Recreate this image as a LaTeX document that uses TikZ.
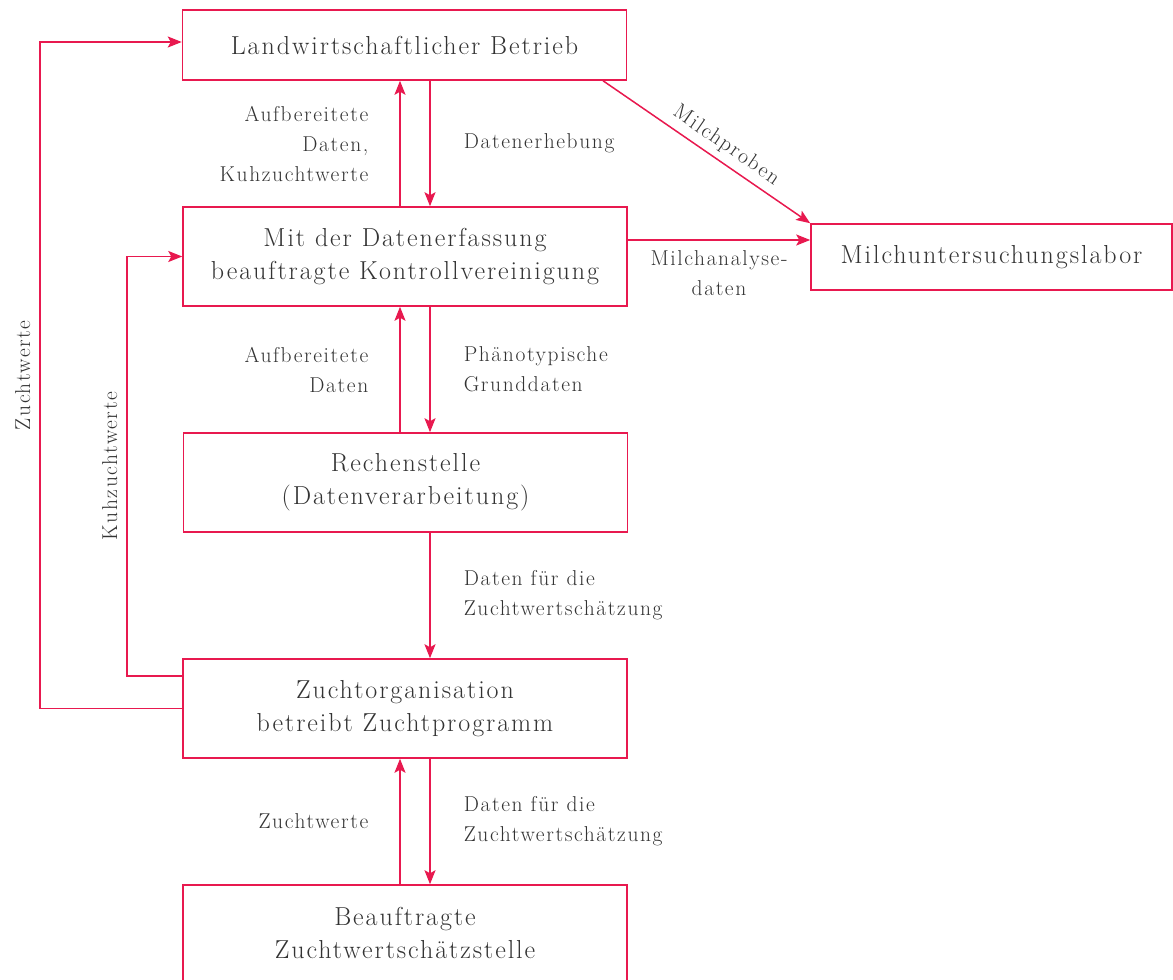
\documentclass[tikz,border=0pt]{standalone}
\usepackage{fontspec}
\setmainfont{Latin Modern Roman}[LetterSpace=7.5]
\usetikzlibrary{arrows.meta}
\definecolor{pk}{HTML}{E8194F}
\definecolor{tx}{HTML}{333333}
\begin{document}
\begin{tikzpicture}[x=1pt,y=-1pt,
  box/.style={draw=pk, line width=1.5pt, minimum width=444pt, minimum height=99pt,
    align=center, text=tx, font=\fontsize{26}{33}\selectfont, inner sep=0pt},
  arr/.style={draw=pk, line width=1.5pt, -{Stealth[length=14pt,width=11pt,inset=3pt]}},
  lbl/.style={text=tx, font=\fontsize{21.5}{30}\selectfont, inner sep=0pt},
  vlbl/.style={lbl, anchor=south, rotate=90, inner xsep=0pt, inner ysep=9pt}
]
\clip (0,0) rectangle (1173,980);
\fill[white] (0,0) rectangle (1173,980);

\node[box, minimum height=70pt] (land) at (404.5,45) {Landwirtschaftlicher Betrieb};
\node[box] (kon) at (405,256.5) {Mit der Datenerfassung\\beauftragte Kontrollvereinigung};
\node[box, minimum width=361pt, minimum height=66pt] (lab) at (991.5,257) {Milchuntersuchungslabor};
\node[box] (rech) at (405.5,482.5) {Rechenstelle\\(Datenverarbeitung)};
\node[box] (zo) at (405,708.5) {Zuchtorganisation\\betreibt Zuchtprogramm};
\node[box, minimum height=96pt] (bz) at (405,933) {Beauftragte\\Zuchtwertschätzstelle};

% Landwirtschaft <-> Kontrollvereinigung
\draw[arr] ([xshift=-5pt]kon.north) -- node[lbl, midway, left=31pt, align=right]{Aufbereitete\\Daten,\\Kuhzuchtwerte} ([xshift=-4.5pt]land.south);
\draw[arr] ([xshift=25.5pt]land.south) -- node[lbl, midway, right=33pt]{Datenerhebung} ([xshift=25pt]kon.north);

% Milchproben / Milchanalyse
\draw[arr] ([xshift=198.5pt]land.south) -- node[lbl, pos=0.55, sloped, above=6pt]{Milchproben} (lab.north west);
\draw[arr] ([yshift=16.5pt]kon.east) -- node[lbl, midway, below=10pt, align=center]{Milchanalyse-\\daten} ([yshift=17pt]lab.west);

% Kontrollvereinigung <-> Rechenstelle
\draw[arr] ([xshift=-5.5pt]rech.north) -- node[lbl, midway, left=31pt, align=right]{Aufbereitete\\Daten} ([xshift=-5pt]kon.south);
\draw[arr] ([xshift=25pt]kon.south) -- node[lbl, midway, right=33pt, align=left]{Phänotypische\\Grunddaten} ([xshift=24.5pt]rech.north);

% Rechenstelle -> Zuchtorganisation
\draw[arr] ([xshift=24.5pt]rech.south) -- node[lbl, midway, right=33pt, align=left]{Daten für die\\Zuchtwertschätzung} ([xshift=25pt]zo.north);

% Zuchtorganisation <-> Zuchtwertschaetzstelle
\draw[arr] ([xshift=-5pt]bz.north) -- node[lbl, midway, left=31pt]{Zuchtwerte} ([xshift=-5pt]zo.south);
\draw[arr] ([xshift=25pt]zo.south) -- node[lbl, midway, right=33pt, align=left]{Daten für die\\Zuchtwertschätzung} ([xshift=25pt]bz.north);

% feedback loops
\coordinate (a1) at (40,708.5);
\coordinate (a2) at (40,42);
\draw[arr] (zo.west) -- (a1) -- node[vlbl, midway]{Zuchtwerte} (a2) -- ([yshift=3pt]land.west);
\coordinate (b1) at (127,676);
\coordinate (b2) at (127,256.5);
\draw[arr] ([yshift=32.5pt]zo.west) -- (b1) -- node[vlbl, midway]{Kuhzuchtwerte} (b2) -- (kon.west);
\end{tikzpicture}
\end{document}
